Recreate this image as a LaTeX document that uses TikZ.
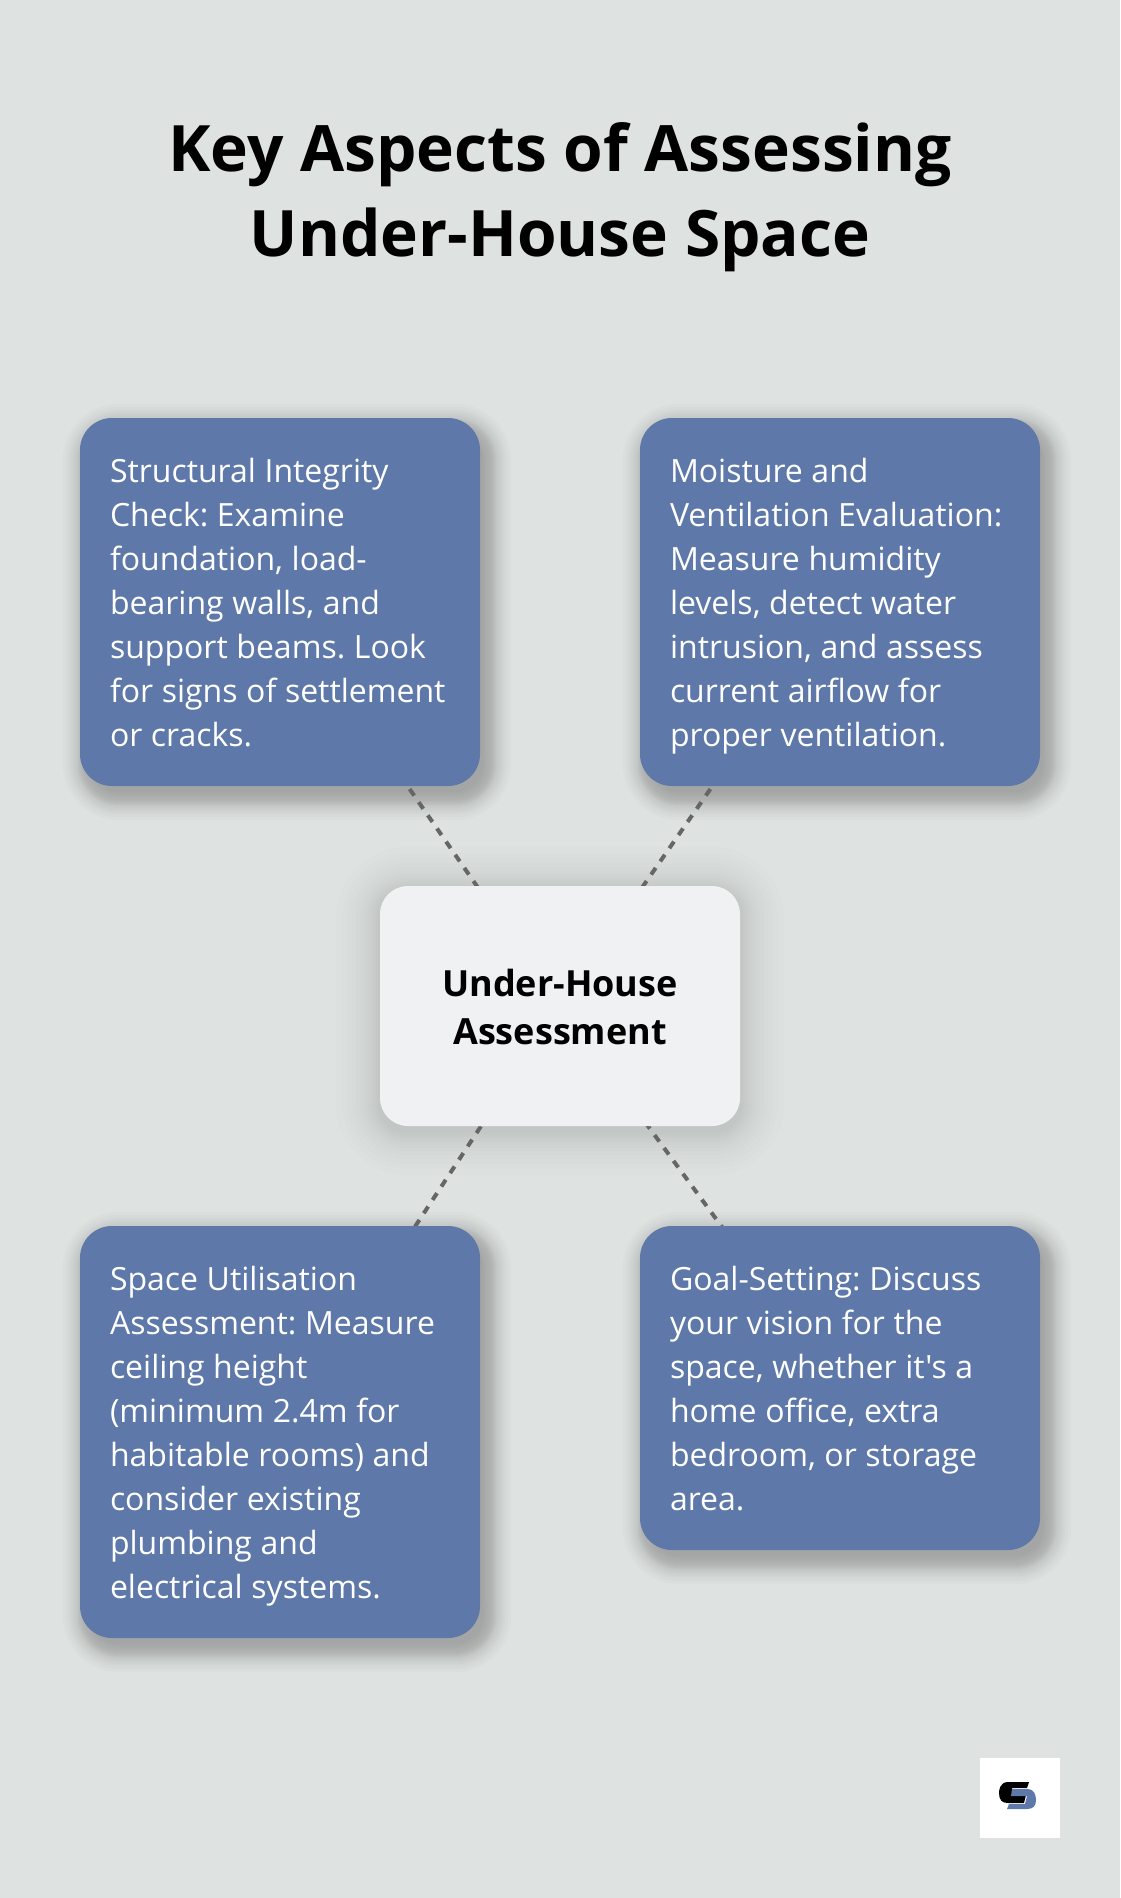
\documentclass[tikz,border=0pt]{standalone}
\usepackage{fontspec}
\setmainfont{Open Sans}
\newfontfamily\cardfont{Open Sans}[Ligatures=TeXOff]
\usepackage{tikz}
\pgfdeclarelayer{bottomlayer}
\pgfdeclarelayer{shadowlayer}
\pgfdeclarelayer{linklayer}
\pgfsetlayers{bottomlayer,shadowlayer,linklayer,main}
\definecolor{pagegray}{HTML}{DEE2E1}
\definecolor{cardblue}{HTML}{5D78A9}
\definecolor{centerwhite}{HTML}{F0F1F3}
\definecolor{linkgray}{HTML}{666666}
\newcommand{\cardstrut}{\rule[-10pt]{0pt}{44pt}}
\tikzset{
  card/.style={fill=cardblue, text=white, rounded corners=32pt, inner sep=30pt, text width=340pt,
    align=left, font=\cardfont\fontsize{32}{44}\selectfont,
    execute at begin node={\setlength{\spaceskip}{8.6pt}\setlength{\xspaceskip}{8.6pt}}},
  centercard/.style={fill=centerwhite, text=black, rounded corners=28pt, minimum width=360pt, minimum height=240pt,
    align=center, font=\fontsize{36}{48}\selectfont\bfseries},
  titletext/.style={text=black, align=center, font=\fontsize{64}{85}\selectfont\bfseries},
  link/.style={draw=linkgray, line width=4pt, dash pattern=on 8pt off 8pt},
}
\begin{document}
\begin{tikzpicture}[x=1pt, y=-1pt]
    \useasboundingbox (0,0) rectangle (1120,1898);
    \begin{pgfonlayer}{bottomlayer}
        \fill [pagegray] (0,0) rectangle (1120,1898);        % page background
    \end{pgfonlayer}

    \node [titletext] (title) at (560,197) {Key Aspects of Assessing\\Under-House Space};

    \node [card] (structural) at (280,602) {\cardstrut Structural Integrity\\Check: Examine\\foundation, load-\\bearing walls, and\\support beams. Look\\for signs of settlement\\or cracks.\cardstrut};
    \node [card] (moisture) at (840,602) {\cardstrut Moisture and\\Ventilation Evaluation:\\Measure humidity\\levels, detect water\\intrusion, and assess\\current airflow for\\proper ventilation.\cardstrut};
    \node [card] (space) at (280,1432) {\cardstrut Space Utilisation\\Assessment: Measure\\ceiling height\\(minimum 2.4m for\\habitable rooms) and\\consider existing\\plumbing and\\electrical systems.\cardstrut};
    \node [card] (goal) at (840,1388) {\cardstrut Goal-Setting: Discuss\\your vision for the\\space, whether it's a\\home office, extra\\bedroom, or storage\\area.\cardstrut};
    \node [centercard] (assess) at (560,1006) {\rule{0pt}{30pt}Under-House\\Assessment};

    \begin{pgfonlayer}{linklayer}
        \foreach \c in {structural,moisture,space,goal}
            \draw [link] (assess.center) -- (\c.center);    % spokes run behind the cards
    \end{pgfonlayer}

    \begin{pgfonlayer}{shadowlayer}
        \foreach \c in {structural,moisture,space,goal}
            \foreach \g in {-4,-2,...,4,5,6,7,8,9,10,12,14,16,18,21,24}   % card shadow
                \fill [black, opacity=0.015, rounded corners=32pt+\g pt]
                    ([shift={(7-\g,10-\g)}]\c.north west) rectangle ([shift={(7+\g,10+\g)}]\c.south east);
        \foreach \g in {2,4,...,14,17,20,24,28,33,38,44}     % soft shadow of centre card
            \fill [black, opacity=0.0075, rounded corners=28pt+\g pt]
                ([shift={(-\g,5-\g)}]assess.north west) rectangle ([shift={(\g,5+\g)}]assess.south east);
    \end{pgfonlayer}

    % logo
    \node [fill=white, minimum size=80pt, inner sep=0pt] (logo) at (1020,1798) {};
    \fill [black] (1029,1782) -- (1008,1782) .. controls (1000,1782) and (999,1790) .. (999,1793)
        .. controls (999,1800) and (1002,1803) .. (1008,1803) -- (1024,1803) -- (1026,1795) -- (1012,1795)
        -- (1012,1788) -- (1027,1788) -- cycle;
    \fill [cardblue] (1012,1789) -- (1028,1789) .. controls (1034,1789) and (1036,1795) .. (1036,1800)
        .. controls (1036,1806) and (1033,1809) .. (1027,1809) -- (1007,1809) -- (1009,1804) -- (1025,1804)
        -- (1027,1796) -- (1011,1796) -- cycle;
\end{tikzpicture}
\end{document}
